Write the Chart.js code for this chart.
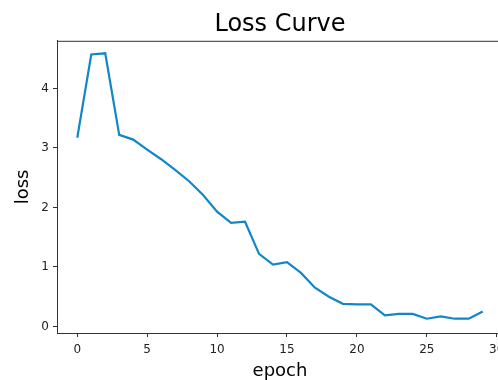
<!DOCTYPE html>
<html>
<head>
<meta charset="utf-8">
<script src="https://cdn.jsdelivr.net/npm/chart.js@4"></script>
<style>
  html, body { margin: 0; padding: 0; background: #fff; overflow: hidden; }
  #wrap { position: absolute; left: 0; top: 0; width: 503px; height: 380px; }
</style>
</head>
<body>
<div id="wrap"><canvas id="lossChart" width="503" height="380"></canvas></div>
<script>
const epochs = [0, 1, 2, 3, 4, 5, 6, 7, 8, 9, 10, 11, 12, 13, 14, 15, 16, 17, 18, 19, 20, 21, 22, 23, 24, 25, 26, 27, 28, 29];
const lossValues = [3.17, 4.57, 4.59, 3.22, 3.14, 2.97, 2.81, 2.63, 2.44, 2.21, 1.93, 1.74, 1.76, 1.22, 1.04, 1.08, 0.90, 0.65, 0.50, 0.38, 0.37, 0.37, 0.185, 0.21, 0.21, 0.13, 0.17, 0.13, 0.13, 0.25];
const xTicks = [0, 5, 10, 15, 20, 25, 30];
const yTicks = [0, 1, 2, 3, 4];

const fontFamily = "'DejaVu Sans', sans-serif";
const axisColor = "#333";

// draws the box round the plot, like matplotlib spines
const frame = {
  id: "frame",
  afterDraw(chart) {
    const a = chart.chartArea;
    const c = chart.ctx;
    c.save();
    c.strokeStyle = axisColor;
    c.lineWidth = 1;
    c.strokeRect(a.left + 0.5, a.top + 0.5, a.right - a.left - 1, a.bottom - a.top);
    c.restore();
  }
};

const ctx = document.getElementById("lossChart");
new Chart(ctx, {
  type: "line",
  data: {
    datasets: [{
      label: "loss",
      data: epochs.map((e, i) => ({ x: e, y: lossValues[i] })),
      borderColor: "#1187c9",
      borderWidth: 2.2,
      pointRadius: 0,
      tension: 0,
      fill: false
    }]
  },
  options: {
    responsive: false,
    animation: false,
    layout: { padding: 0 },
    plugins: {
      legend: { display: false },
      tooltip: { enabled: false },
      title: {
        display: true,
        text: "Loss Curve",
        fullSize: false,
        color: "#000",
        font: { family: fontFamily, size: 24, weight: "normal", lineHeight: 1.2 },
        padding: { top: 10, bottom: 2 }
      }
    },
    scales: {
      x: {
        type: "linear",
        min: -1.45,
        max: 30.45,
        afterBuildTicks: (scale) => { scale.ticks = xTicks.map(v => ({ value: v })); },
        afterFit: (scale) => {
          scale.height = 47;
          scale.paddingLeft = 0;
          scale.paddingRight = 0;
        },
        grid: { drawOnChartArea: false, tickLength: 4, tickColor: axisColor },
        border: { color: axisColor },
        ticks: {
          color: "#222",
          padding: 6,
          maxRotation: 0,
          font: { family: fontFamily, size: 12 }
        },
        title: {
          display: true,
          text: "epoch",
          color: "#000",
          font: { family: fontFamily, size: 18, lineHeight: 1.2 },
          padding: { top: 0, bottom: -2 }
        }
      },
      y: {
        type: "linear",
        min: -0.11,
        max: 4.8,
        afterBuildTicks: (scale) => { scale.ticks = yTicks.map(v => ({ value: v })); },
        afterFit: (scale) => {
          scale.width = 57;
          scale.paddingTop = 0;
          scale.paddingBottom = 0;
        },
        grid: { drawOnChartArea: false, tickLength: 4, tickColor: axisColor },
        border: { color: axisColor },
        ticks: {
          color: "#222",
          padding: 4,
          font: { family: fontFamily, size: 12 }
        },
        title: {
          display: true,
          text: "loss",
          color: "#000",
          font: { family: fontFamily, size: 18, lineHeight: 1.2 },
          padding: { top: 13, bottom: 0 }
        }
      }
    }
  },
  plugins: [frame]
});
</script>
</body>
</html>
